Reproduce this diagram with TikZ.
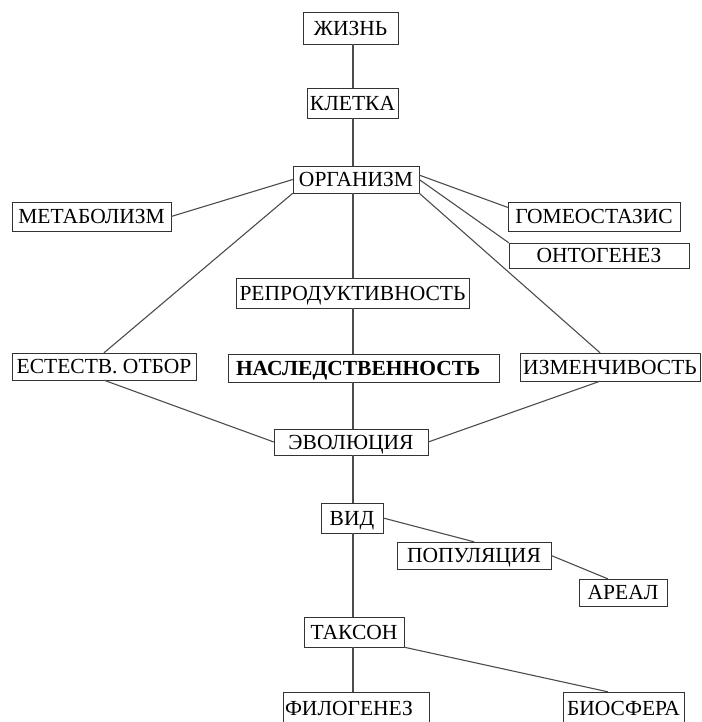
\documentclass[tikz,border=0pt]{standalone}
\usepackage{fontspec}
\setmainfont{Liberation Serif}

\begin{document}
\begin{tikzpicture}[x=1pt,y=-1pt,
    every node/.style={draw=black!80,fill=white,shape=rectangle,inner sep=0pt,
        text height=14.5pt,text depth=0pt,font=\fontsize{21.5}{24}\selectfont},
    link/.style={black!70,line width=1.1pt}]
  \clip (0,0) rectangle (701,722);
  \coordinate (spine) at (353,0);
  %%%%% THE SPINE
  \node[minimum width=95pt,minimum height=32pt] (zhizn) at (350.5,28) {ЖИЗНЬ};
  \node[minimum width=91pt,minimum height=30pt] (kletka) at (352.5,103) {КЛЕТКА};
  \node[minimum width=126pt,minimum height=27pt] (org) at (356,179.5) {ОРГАНИЗМ};
  \node[minimum width=233pt,minimum height=30pt] (repr) at (352.5,293) {РЕПРОДУКТИВНОСТЬ};
  \node[text width=255pt,align=left,inner xsep=8pt,minimum height=28pt,font=\fontsize{21.5}{24}\selectfont\bfseries] (nasl) at (363.5,368) {НАСЛЕДСТВЕННОСТЬ};
  \node[minimum width=154pt,minimum height=26pt] (evol) at (351,442) {ЭВОЛЮЦИЯ};
  \node[minimum width=62pt,minimum height=30pt] (vid) at (352,518) {ВИД};
  \node[minimum width=100pt,minimum height=30pt] (takson) at (354,632) {ТАКСОН};
  \node[text width=142pt,align=left,inner xsep=2pt,minimum height=32pt] (filo) at (356,708) {ФИЛОГЕНЕЗ};
  %%%%% THE BRANCHES
  \node[minimum width=159pt,minimum height=29pt] (metab) at (91.5,216.5) {МЕТАБОЛИЗМ};
  \node[minimum width=172pt,minimum height=29pt] (gomeo) at (594,216.5) {ГОМЕОСТАЗИС};
  \node[minimum width=180pt,minimum height=25pt] (onto) at (599,255.5) {ОНТОГЕНЕЗ};
  \node[minimum width=184pt,minimum height=27pt] (estest) at (104,366.5) {ЕСТЕСТВ. ОТБОР};
  \node[minimum width=180pt,minimum height=28pt] (izm) at (610,367) {ИЗМЕНЧИВОСТЬ};
  \node[minimum width=154pt,minimum height=27pt] (popul) at (474,555.5) {ПОПУЛЯЦИЯ};
  \node[minimum width=88pt,minimum height=27pt] (areal) at (623,592.5) {АРЕАЛ};
  \node[minimum width=121pt,minimum height=32pt] (bio) at (623.5,708) {БИОСФЕРА};
  %%%%% LINKS ALONG THE SPINE
  \draw[link] (zhizn.south -| spine) -- (kletka.north -| spine);
  \draw[link] (kletka.south -| spine) -- (org.north -| spine);
  \draw[link] (org.south -| spine) -- (repr.north -| spine);
  \draw[link] (repr.south -| spine) -- (nasl.north -| spine);
  \draw[link] (nasl.south -| spine) -- (evol.north -| spine);
  \draw[link] (evol.south -| spine) -- (vid.north -| spine);
  \draw[link] (vid.south -| spine) -- (takson.north -| spine);
  \draw[link] (takson.south -| spine) -- (filo.north -| spine);
  %%%%% LINKS TO THE BRANCHES
  \draw[link] (metab.east) -- (org.west);
  \draw[link] (org.4) -- (gomeo.174);
  \draw[link] (org.east) -- (onto.north west);
  \draw[link] (org.south east) -- (izm.125);
  \draw[link] (org.south west) -- (estest.north);
  \draw[link] (estest.south) -- (evol.west);
  \draw[link] (izm.235) -- (evol.east);
  \draw[link] (vid.east) -- (popul.north);
  \draw[link] (popul.east) -- (areal.138);
  \draw[link] (takson.south east) -- (bio.134);
\end{tikzpicture}
\end{document}
